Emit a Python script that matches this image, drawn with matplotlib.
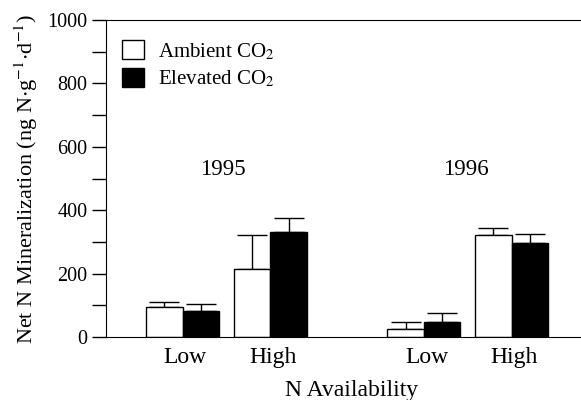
import numpy as np
from matplotlib import pyplot as plt

plt.rcParams['font.family'] = ['Liberation Serif', 'DejaVu Serif']
plt.rcParams['mathtext.fontset'] = 'stix'

# data
groups = ['Low', 'High', 'Low', 'High']
years = ['1995', '1996']
ambient = [94, 214, 24, 321]
ambient_err = [16, 109, 22, 23]
elevated = [82, 331, 46, 297]
elevated_err = [21, 43, 31, 29]

centers = np.array([2.1, 4.5, 8.7, 11.1])
w = 1.0

fig = plt.figure(figsize=(5.81, 4.0), dpi=100)
ax = fig.add_axes([106/581, 63/400, 475/581, 317/400])

ax.errorbar(centers - w/2, ambient, yerr=[np.zeros(4), ambient_err], fmt='none',
            ecolor='black', elinewidth=1, capsize=11, capthick=1, zorder=1)
ax.errorbar(centers + w/2, elevated, yerr=[np.zeros(4), elevated_err], fmt='none',
            ecolor='black', elinewidth=1, capsize=11, capthick=1, zorder=1)
ax.bar(centers - w/2, ambient, w, color='white', edgecolor='black', lw=1,
       label='Ambient CO$_2$', zorder=2)
ax.bar(centers + w/2, elevated, w, color='black', edgecolor='black', lw=1,
       label='Elevated CO$_2$', zorder=2)

ax.set_xlim(0, 13)
ax.set_ylim(0, 1000)
ax.set_yticks([0, 200, 400, 600, 800, 1000])
ax.set_yticks([100, 300, 500, 700, 900], minor=True)
ax.tick_params(axis='y', which='both', direction='out', length=10, width=1, labelsize=14.5)
ax.set_xticks(centers + 0.07)
ax.set_xticklabels(groups, fontsize=17)
ax.tick_params(axis='x', length=0, pad=7)
ax.spines['right'].set_visible(False)

ax.text(3.2, 527, years[0], ha='center', va='center', fontsize=16.5)
ax.text(9.85, 527, years[1], ha='center', va='center', fontsize=16.5)

ax.set_xlabel('N Availability', fontsize=17)
ax.xaxis.set_label_coords(0.517, -0.137)
ax.set_ylabel('Net N Mineralization (ng N$\\cdot$g$^{-1}$$\\cdot$d$^{-1}$)', fontsize=16, labelpad=5)

ax.legend(loc='upper left', bbox_to_anchor=(0.016, 0.962), frameon=False, fontsize=15,
          handlelength=1.06, handleheight=1.0, borderaxespad=0, handletextpad=0.67,
          labelspacing=0.3)

plt.savefig('out.png', dpi=100)
